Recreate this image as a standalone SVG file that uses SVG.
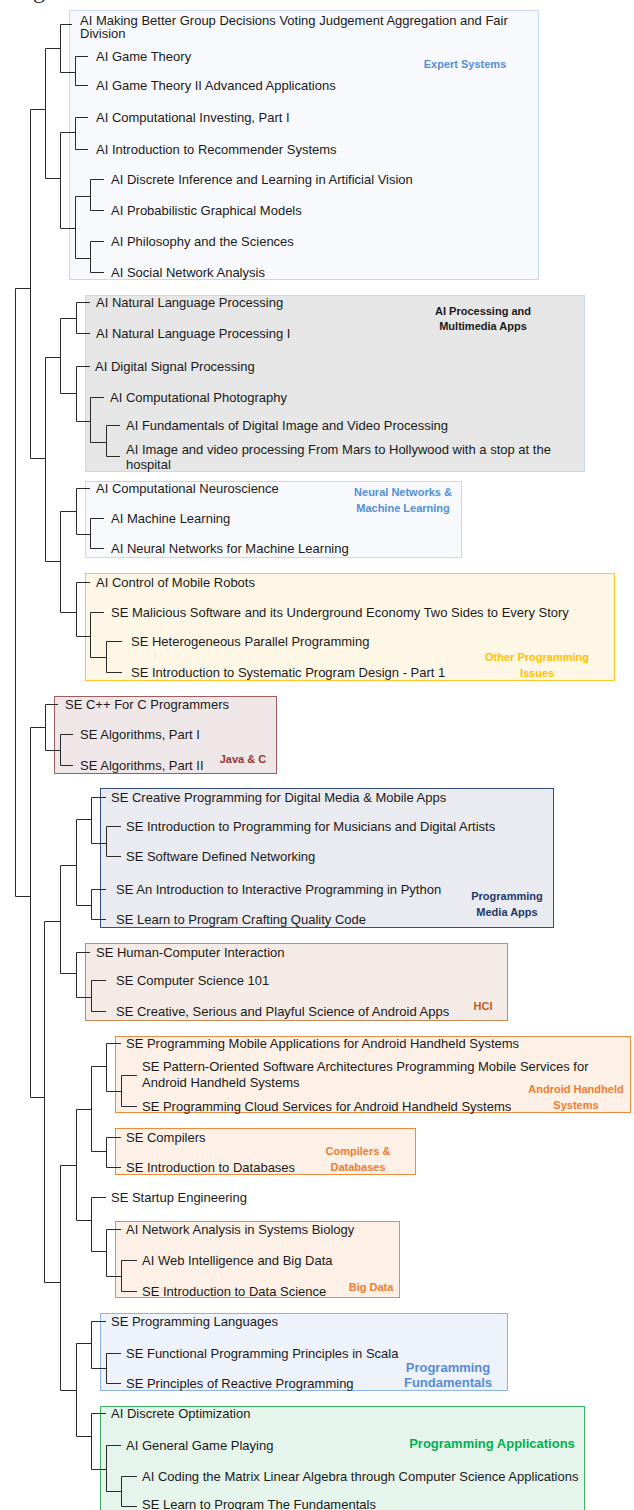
<svg xmlns="http://www.w3.org/2000/svg" width="634" height="1510" viewBox="0 0 634 1510">
<style>
.t{font-family:"Liberation Sans",Arial,sans-serif;font-size:13px;fill:#1a1a1a}
.c{font-family:"Liberation Sans",Arial,sans-serif;font-size:11px;font-weight:bold;text-anchor:middle}
.c13{font-size:13px}
.e{fill:none;stroke:#2a2a2a;stroke-width:1}
</style>
<rect width="634" height="1510" fill="#ffffff"/>
<text x="33" y="-2" font-family="'Liberation Serif',serif" font-size="24" fill="#333">g</text>
<g id="clusters">
<g id="c-expert"><rect x="69.5" y="10.5" width="469" height="269" fill="#f8f9fc" stroke="#c6d9f1"/><text class="c" x="465" y="68" fill="#558ed5">Expert Systems</text></g>
<g id="c-aiproc"><rect x="85.5" y="295.5" width="499" height="176" fill="#e6e6e6" stroke="#c6d9f1"/><text class="c" x="483" y="315" fill="#1a1a1a">AI Processing and</text><text class="c" x="483" y="330" fill="#1a1a1a">Multimedia Apps</text></g>
<g id="c-neural"><rect x="85.5" y="481.5" width="376" height="76" fill="#f8f9fc" stroke="#c6d9f1"/><text class="c" x="403" y="496" fill="#558ed5">Neural Networks &amp;</text><text class="c" x="403" y="512" fill="#558ed5">Machine Learning</text></g>
<g id="c-other"><rect x="85.5" y="573.5" width="529" height="107" fill="#fff7e6" stroke="#ffc729"/><text class="c" x="537" y="661" fill="#ffc000">Other Programming</text><text class="c" x="537" y="677" fill="#ffc000">Issues</text></g>
<g id="c-java"><rect x="54.5" y="696.5" width="222" height="77" fill="#efe7e7" stroke="#9c5f5d"/><text class="c" x="243" y="763" fill="#943634">Java &amp; C</text></g>
<g id="c-media"><rect x="100.5" y="788.5" width="453" height="139" fill="#e9ebf0" stroke="#33507e"/><text class="c" x="507" y="900" fill="#1f3864">Programming</text><text class="c" x="507" y="916" fill="#1f3864">Media Apps</text></g>
<g id="c-hci"><rect x="85.5" y="943.5" width="422" height="77" fill="#f4ebe6" stroke="#c98a55"/><text class="c" x="483" y="1010" fill="#c55a11">HCI</text></g>
<g id="c-android"><rect x="115.5" y="1036.5" width="515" height="76" fill="#fdf0e6" stroke="#f08a3c"/><text class="c" x="576" y="1093" fill="#ed7d31">Android Handheld</text><text class="c" x="576" y="1109" fill="#ed7d31">Systems</text></g>
<g id="c-compilers"><rect x="115.5" y="1128.5" width="300" height="46" fill="#fdf0e6" stroke="#f08a3c"/><text class="c" x="358" y="1155" fill="#ed7d31">Compilers &amp;</text><text class="c" x="358" y="1171" fill="#ed7d31">Databases</text></g>
<g id="c-bigdata"><rect x="115.5" y="1221.5" width="284" height="76" fill="#fdf0e6" stroke="#f08a3c"/><text class="c" x="371" y="1291" fill="#ed7d31">Big Data</text></g>
<g id="c-fund"><rect x="100.5" y="1313.5" width="407" height="77" fill="#eef2fa" stroke="#8eb4e3"/><text class="c c13" x="448" y="1372" fill="#558ed5">Programming</text><text class="c c13" x="448" y="1387" fill="#558ed5">Fundamentals</text></g>
<g id="c-apps"><rect x="100.5" y="1406.5" width="484" height="110" fill="#e6f5eb" stroke="#3cb464"/><text class="c c13" x="492" y="1448" fill="#00b050">Programming Applications</text></g>
</g>
<g id="connectors" class="e">
<path class="e" d="M60.5 24.5H72M75.5 56.5H88M75.5 85.5H88M75.5 117.5H88M75.5 149.5H88M90.5 179.5H104M90.5 210.5H104M90.5 241.5H104M90.5 272.5H104"/>
<path class="e" d="M75.5 56.5V85.5M60.5 72.5H75.5M60.5 24.5V72.5M45.5 48.5H60.5M75.5 117.5V149.5M60.5 132.5H75.5M90.5 179.5V210.5M75.5 196.5H90.5M90.5 241.5V272.5M75.5 258.5H90.5M75.5 196.5V258.5M60.5 228.5H75.5M60.5 132.5V228.5M45.5 178.5H60.5M45.5 48.5V178.5M30.5 109.5H45.5M30.5 109.5V458.5M15.5 288.5H30.5"/>
<path class="e" d="M76.5 302.5H90M76.5 333.5H90M76.5 366.5H90M90.5 397.5H104M106.5 425.5H120M106.5 456.5H120M106.5 425.5V456.5M90.5 442.5H106.5M90.5 397.5V442.5M76.5 421.5H90.5M76.5 366.5V421.5M60.5 393.5H76.5M76.5 302.5V333.5M60.5 318.5H76.5M60.5 318.5V393.5M45.5 357.5H60.5"/>
<path class="e" d="M76.5 488.5H90M90.5 518.5H104M90.5 548.5H104M90.5 518.5V548.5M76.5 534.5H90.5M76.5 488.5V534.5M60.5 511.5H76.5"/>
<path class="e" d="M76.5 582.5H90M90.5 612.5H104M106.5 641.5H122M106.5 672.5H122M106.5 641.5V672.5M90.5 657.5H106.5M90.5 612.5V657.5M76.5 636.5H90.5M76.5 582.5V636.5M60.5 612.5H76.5M60.5 511.5V612.5M45.5 561.5H60.5M45.5 357.5V561.5M30.5 458.5H45.5"/>
<path class="e" d="M15.5 288.5V896.5M15.5 896.5H30.5M30.5 727.5V1097.5M30.5 727.5H45.5M45.5 704.5H58M60.5 734.5H73M60.5 765.5H73M60.5 734.5V765.5M45.5 750.5H60.5M45.5 704.5V750.5M30.5 1097.5H44.5"/>
<path class="e" d="M91.5 797.5H106M106.5 826.5H121M106.5 856.5H121M106.5 826.5V856.5M91.5 843.5H106.5M91.5 797.5V843.5M76.5 819.5H91.5M91.5 889.5H106M91.5 919.5H106M91.5 889.5V919.5M76.5 905.5H91.5M76.5 819.5V905.5M60.5 865.5H76.5"/>
<path class="e" d="M76.5 952.5H90M91.5 980.5H106M91.5 1011.5H106M91.5 980.5V1011.5M76.5 997.5H91.5M76.5 952.5V997.5M60.5 973.5H76.5M60.5 865.5V973.5M44.5 921.5H60.5M44.5 921.5V1282.5M44.5 1282.5H60.5"/>
<path class="e" d="M106.5 1043.5H121M121.5 1075.5H137M121.5 1106.5H137M121.5 1075.5V1106.5M106.5 1091.5H121.5M106.5 1043.5V1091.5M91.5 1066.5H106.5M106.5 1137.5H121M106.5 1167.5H121M106.5 1137.5V1167.5M91.5 1151.5H106.5M91.5 1066.5V1151.5M76.5 1109.5H91.5"/>
<path class="e" d="M91.5 1197.5H106M106.5 1229.5H121M121.5 1260.5H137M121.5 1291.5H137M121.5 1260.5V1291.5M106.5 1276.5H121.5M106.5 1229.5V1276.5M91.5 1251.5H106.5M91.5 1197.5V1251.5M76.5 1220.5H91.5M76.5 1109.5V1220.5M60.5 1165.5H76.5"/>
<path class="e" d="M91.5 1321.5H106M106.5 1353.5H121M106.5 1383.5H121M106.5 1353.5V1383.5M91.5 1368.5H106.5M91.5 1321.5V1368.5M76.5 1343.5H91.5"/>
<path class="e" d="M91.5 1413.5H106M106.5 1445.5H121M121.5 1476.5H137M121.5 1506.5H137M121.5 1476.5V1506.5M106.5 1491.5H121.5M106.5 1445.5V1491.5M91.5 1469.5H106.5M91.5 1413.5V1469.5M76.5 1436.5H91.5M76.5 1343.5V1436.5M60.5 1390.5H76.5M60.5 1165.5V1390.5"/>
</g>
<g id="nodes">
<g id="n1"><text class="t" x="80" y="24.5">AI Making Better Group Decisions Voting Judgement Aggregation and Fair</text><text class="t" x="80" y="37.5">Division</text></g>
<g id="n2"><text class="t" x="96" y="60.5">AI Game Theory</text></g>
<g id="n3"><text class="t" x="96" y="89.5">AI Game Theory II Advanced Applications</text></g>
<g id="n4"><text class="t" x="96" y="121.5">AI Computational Investing, Part I</text></g>
<g id="n5"><text class="t" x="96" y="153.5">AI Introduction to Recommender Systems</text></g>
<g id="n6"><text class="t" x="111" y="183.5">AI Discrete Inference and Learning in Artificial Vision</text></g>
<g id="n7"><text class="t" x="111" y="214.5">AI Probabilistic Graphical Models</text></g>
<g id="n8"><text class="t" x="111" y="245.5">AI Philosophy and the Sciences</text></g>
<g id="n9"><text class="t" x="111" y="276.5">AI Social Network Analysis</text></g>
<g id="n10"><text class="t" x="96" y="306.5">AI Natural Language Processing</text></g>
<g id="n11"><text class="t" x="96" y="337.5">AI Natural Language Processing I</text></g>
<g id="n12"><text class="t" x="95" y="370.5">AI Digital Signal Processing</text></g>
<g id="n13"><text class="t" x="110" y="401.5">AI Computational Photography</text></g>
<g id="n14"><text class="t" x="126" y="429.5">AI Fundamentals of Digital Image and Video Processing</text></g>
<g id="n15"><text class="t" x="126" y="453.5">AI Image and video processing From Mars to Hollywood with a stop at the</text><text class="t" x="126" y="468.5">hospital</text></g>
<g id="n16"><text class="t" x="96" y="492.5">AI Computational Neuroscience</text></g>
<g id="n17"><text class="t" x="111" y="522.5">AI Machine Learning</text></g>
<g id="n18"><text class="t" x="111" y="552.5">AI Neural Networks for Machine Learning</text></g>
<g id="n19"><text class="t" x="96" y="586.5">AI Control of Mobile Robots</text></g>
<g id="n20"><text class="t" x="111" y="616.5">SE Malicious Software and its Underground Economy Two Sides to Every Story</text></g>
<g id="n21"><text class="t" x="131" y="645.5">SE Heterogeneous Parallel Programming</text></g>
<g id="n22"><text class="t" x="131" y="676.5">SE Introduction to Systematic Program Design - Part 1</text></g>
<g id="n23"><text class="t" x="65" y="708.5">SE C++ For C Programmers</text></g>
<g id="n24"><text class="t" x="80" y="738.5">SE Algorithms, Part I</text></g>
<g id="n25"><text class="t" x="80" y="769.5">SE Algorithms, Part II</text></g>
<g id="n26"><text class="t" x="111" y="801.5">SE Creative Programming for Digital Media &amp; Mobile Apps</text></g>
<g id="n27"><text class="t" x="126" y="830.5">SE Introduction to Programming for Musicians and Digital Artists</text></g>
<g id="n28"><text class="t" x="126" y="860.5">SE Software Defined Networking</text></g>
<g id="n29"><text class="t" x="116" y="893.5">SE An Introduction to Interactive Programming in Python</text></g>
<g id="n30"><text class="t" x="116" y="923.5">SE Learn to Program Crafting Quality Code</text></g>
<g id="n31"><text class="t" x="96" y="956.5">SE Human-Computer Interaction</text></g>
<g id="n32"><text class="t" x="116" y="984.5">SE Computer Science 101</text></g>
<g id="n33"><text class="t" x="116" y="1015.5">SE Creative, Serious and Playful Science of Android Apps</text></g>
<g id="n34"><text class="t" x="126" y="1047.5">SE Programming Mobile Applications for Android Handheld Systems</text></g>
<g id="n35"><text class="t" x="142" y="1070.5">SE Pattern-Oriented Software Architectures Programming Mobile Services for</text><text class="t" x="142" y="1086.5">Android Handheld Systems</text></g>
<g id="n36"><text class="t" x="142" y="1110.5">SE Programming Cloud Services for Android Handheld Systems</text></g>
<g id="n37"><text class="t" x="126" y="1141.5">SE Compilers</text></g>
<g id="n38"><text class="t" x="126" y="1171.5">SE Introduction to Databases</text></g>
<g id="n39"><text class="t" x="111" y="1201.5">SE Startup Engineering</text></g>
<g id="n40"><text class="t" x="126" y="1233.5">AI Network Analysis in Systems Biology</text></g>
<g id="n41"><text class="t" x="142" y="1264.5">AI Web Intelligence and Big Data</text></g>
<g id="n42"><text class="t" x="142" y="1295.5">SE Introduction to Data Science</text></g>
<g id="n43"><text class="t" x="111" y="1325.5">SE Programming Languages</text></g>
<g id="n44"><text class="t" x="126" y="1357.5">SE Functional Programming Principles in Scala</text></g>
<g id="n45"><text class="t" x="126" y="1387.5">SE Principles of Reactive Programming</text></g>
<g id="n46"><text class="t" x="111" y="1417.5">AI Discrete Optimization</text></g>
<g id="n47"><text class="t" x="126" y="1449.5">AI General Game Playing</text></g>
<g id="n48"><text class="t" x="142" y="1480.5">AI Coding the Matrix Linear Algebra through Computer Science Applications</text></g>
<g id="n49"><text class="t" x="142" y="1509">SE Learn to Program The Fundamentals</text></g>
</g>
</svg>
